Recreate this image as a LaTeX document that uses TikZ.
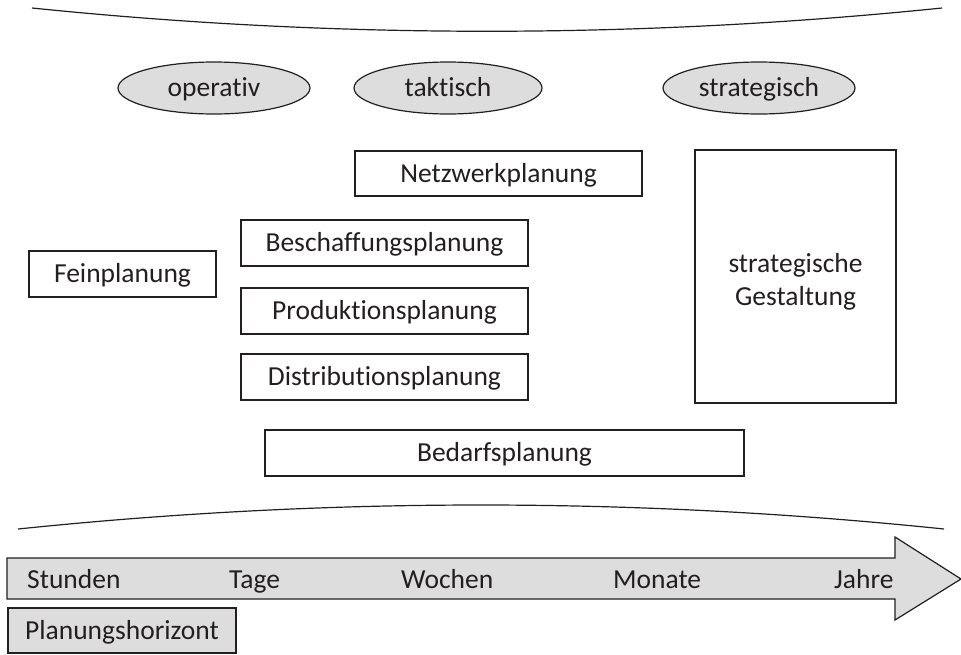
\documentclass[tikz,border=0pt]{standalone}
\usepackage{fontspec}
\setmainfont{Carlito}[Ligatures={NoCommon}]
\usetikzlibrary{shapes.geometric}
\definecolor{ink}{HTML}{231F20}
\definecolor{shade}{HTML}{DDDDDD}
\tikzset{
  every node/.style={text=ink, font=\fontsize{27.5pt}{33pt}\selectfont, inner sep=0pt},
  oneline/.style={text height=17.6pt, text depth=0pt},
  planbox/.style={draw=ink, line width=1.2pt, fill=white, rectangle},
  level/.style={draw=ink, line width=1.2pt, fill=shade, ellipse, oneline,
    minimum width=192pt, minimum height=52pt},
  brace/.style={draw=ink, line width=1.2pt},
  ticklabel/.style={anchor=base west},
}
\begin{document}
\begin{tikzpicture}[x=1pt,y=-1pt]
\useasboundingbox (0,0) rectangle (961,654);

% upper bracket line
\coordinate (tl) at (32,8);
\coordinate (tr) at (942,8);
\draw[brace] (tl) .. controls (335,39) and (639,39) .. (tr);

% planning levels
\node[level] (op) at (214,88) {operativ};
\node[level, minimum width=188pt] (tak) at (448,88) {taktisch};
\node[level] (str) at (759,88) {strategisch};

% planning tasks
\node[planbox, oneline, minimum width=287pt, minimum height=45pt] (netz) at (498.5,173.5) {Netzwerkplanung};
\node[planbox, oneline, minimum width=187pt, minimum height=46pt] (fein) at (122.5,274) {Feinplanung};
\node[planbox, oneline, minimum width=287pt, minimum height=46pt] (besch) at (384.5,243) {Beschaffungsplanung};
\node[planbox, oneline, minimum width=287pt, minimum height=46pt] (prod) at (384.5,311) {Produktionsplanung};
\node[planbox, oneline, minimum width=287pt, minimum height=46pt] (dist) at (384.5,377) {Distributionsplanung};
\node[planbox, minimum width=201pt, minimum height=253pt] (gest) at (795.5,276.5) {};
\node[align=center, anchor=base] (gtext) at (795.5,305) {strategische\\Gestaltung};
\node[planbox, oneline, minimum width=479pt, minimum height=46pt] (bed) at (504.5,453) {Bedarfsplanung};

% lower bracket line
\coordinate (bl) at (18,529);
\coordinate (br) at (944,529);
\draw[brace] (bl) .. controls (327,497) and (635,497) .. (br);

% time axis arrow
\draw[draw=ink, line width=1.2pt, fill=shade]
  (7,558) -- (895,558) -- (895,537) -- (961,579) -- (895,620) -- (895,599) -- (7,599) -- cycle;
\node[ticklabel] (h) at (27,588) {Stunden};
\node[ticklabel] (d) at (229,588) {Tage};
\node[ticklabel] (w) at (401,588) {Wochen};
\node[ticklabel] (m) at (613,588) {Monate};
\node[ticklabel] (y) at (834,588) {Jahre};

% axis caption
\node[draw=ink, line width=1.2pt, fill=shade, oneline, minimum width=228pt, minimum height=45pt] (hor) at (122,630.5) {Planungshorizont};
\end{tikzpicture}
\end{document}
